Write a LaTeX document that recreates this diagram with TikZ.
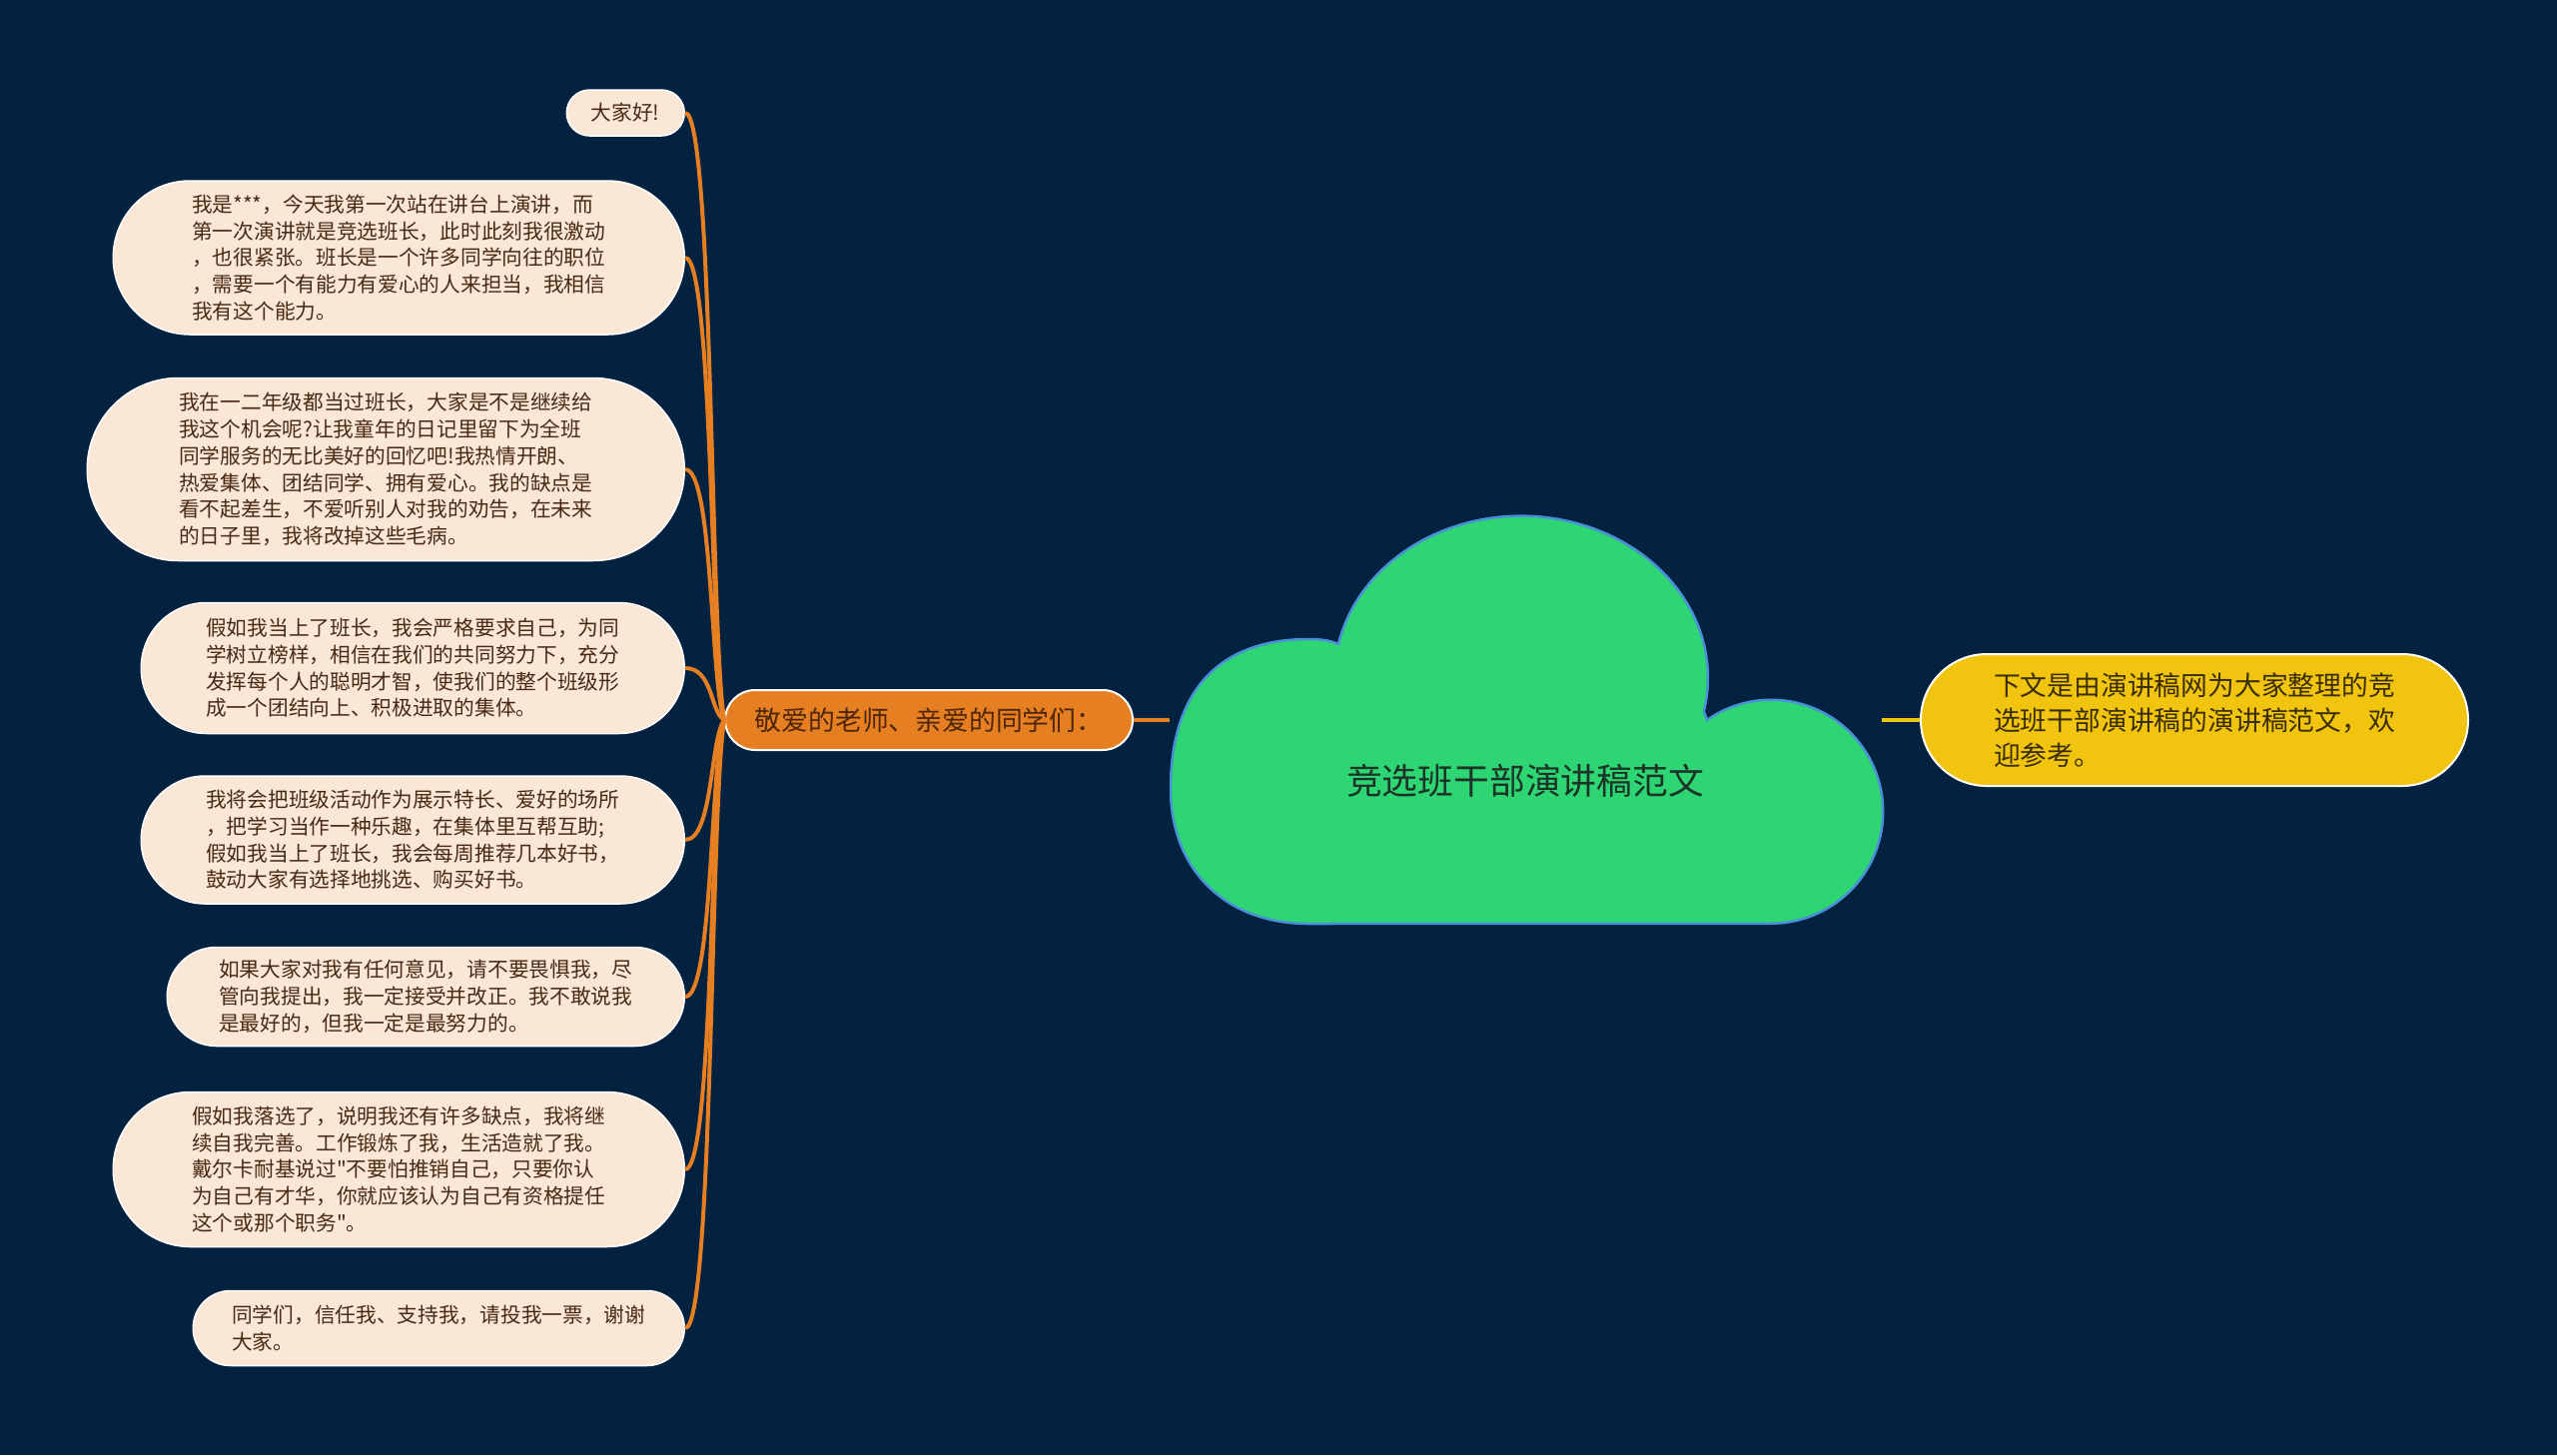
\documentclass[tikz,border=0pt]{standalone}
\usepackage{fontspec}
\newfontfamily\cjk{Noto Sans CJK SC}

\definecolor{bgnavy}{RGB}{2,34,64}
\definecolor{leaffill}{RGB}{251,231,214}
\definecolor{leaftext}{RGB}{72,42,20}
\definecolor{hubfill}{RGB}{230,126,34}
\definecolor{hubtext}{RGB}{78,38,8}
\definecolor{cloudfill}{RGB}{46,213,115}
\definecolor{cloudedge}{RGB}{74,143,216}
\definecolor{titletext}{RGB}{28,52,40}
\definecolor{notefill}{RGB}{241,196,15}
\definecolor{notetext}{RGB}{58,46,0}

\tikzset{
  pill/.style 2 args={rectangle, minimum width=#1pt, minimum height=#2pt,
    rounded corners=#2pt/2, inner sep=0pt},
  leaf/.style={fill=leaffill, draw=white, line width=1.5pt, align=left,
    text=leaftext, font=\cjk\fontsize{20.7pt}{26.7pt}\selectfont},
  hub/.style={fill=hubfill, draw=white, line width=2pt, text=hubtext,
    font=\cjk\fontsize{26.8pt}{30pt}\selectfont},
  note/.style={fill=notefill, draw=white, line width=2pt, align=left,
    text=notetext, font=\cjk\fontsize{26.8pt}{35pt}\selectfont},
  link/.style={draw=hubfill, line width=4pt},
  cloud/.style={fill=cloudfill, draw=cloudedge, line width=2.5pt},
}

\begin{document}
\begin{tikzpicture}[x=1pt, y=-1pt]
  \fill[bgnavy] (0,0) rectangle (2560,1457);
  \useasboundingbox (0,0) rectangle (2560,1457);

  % cloud
  \draw[cloud] (1310,925) .. controls (1227,925) and (1172,871) .. (1172,790)
    .. controls (1172,685) and (1227,640) .. (1310,640)
    .. controls (1325,640) and (1333,642) .. (1340,645)
    arc[start angle=192, end angle=372, x radius=187, y radius=162]
    -- (1709,721)
    arc[start angle=235, end angle=450, radius=112]
    -- cycle;
  \node[text=titletext, font=\cjk\fontsize{35.8pt}{40pt}\selectfont] (title) at (1527,782) {竞选班干部演讲稿范文};
  \coordinate (cloudW) at (1171,721);
  \coordinate (cloudE) at (1884,721);

  \node[hub, pill={408}{60}, anchor=west] (hub) at (725,721) {敬爱的老师、亲爱的同学们：};
  \node[note, pill={548}{132}, anchor=west] (note) at (1922,721) {下文是由演讲稿网为大家整理的竞\\选班干部演讲稿的演讲稿范文，欢\\迎参考。};

  \node[leaf, pill={118}{46}, anchor=east] (l1) at (686,113) {大家好!};
  \node[leaf, pill={572}{154}, anchor=east] (l2) at (686,258) {我是***，今天我第一次站在讲台上演讲，而\\第一次演讲就是竞选班长，此时此刻我很激动\\，也很紧张。班长是一个许多同学向往的职位\\，需要一个有能力有爱心的人来担当，我相信\\我有这个能力。};
  \node[leaf, pill={598}{183}, anchor=east] (l3) at (686,470) {我在一二年级都当过班长，大家是不是继续给\\我这个机会呢?让我童年的日记里留下为全班\\同学服务的无比美好的回忆吧!我热情开朗、\\热爱集体、团结同学、拥有爱心。我的缺点是\\看不起差生，不爱听别人对我的劝告，在未来\\的日子里，我将改掉这些毛病。};
  \node[leaf, pill={544}{131}, anchor=east] (l4) at (686,669) {假如我当上了班长，我会严格要求自己，为同\\学树立榜样，相信在我们的共同努力下，充分\\发挥每个人的聪明才智，使我们的整个班级形\\成一个团结向上、积极进取的集体。};
  \node[leaf, pill={544}{128}, anchor=east] (l5) at (686,841) {我将会把班级活动作为展示特长、爱好的场所\\，把学习当作一种乐趣，在集体里互帮互助;\\假如我当上了班长，我会每周推荐几本好书，\\鼓动大家有选择地挑选、购买好书。};
  \node[leaf, pill={518}{99}, anchor=east] (l6) at (686,998) {如果大家对我有任何意见，请不要畏惧我，尽\\管向我提出，我一定接受并改正。我不敢说我\\是最好的，但我一定是最努力的。};
  \node[leaf, pill={572}{155}, anchor=east] (l7) at (686,1171) {假如我落选了，说明我还有许多缺点，我将继\\续自我完善。工作锻炼了我，生活造就了我。\\戴尔卡耐基说过"不要怕推销自己，只要你认\\为自己有才华，你就应该认为自己有资格提任\\这个或那个职务"。};
  \node[leaf, pill={492}{75}, anchor=east] (l8) at (686,1330) {同学们，信任我、支持我，请投我一票，谢谢\\大家。};

  \draw[link] (hub.east) -- (cloudW);
  \draw[draw=notefill, line width=4pt] (cloudE) -- (note.west);
  \foreach \leaf/\dy in {l1/-91, l2/-69, l3/-38, l4/-8, l5/18, l6/42, l7/68, l8/91}
    \draw[link] (hub.west) .. controls +(-14,\dy) and +(28,0) .. (\leaf.east);
\end{tikzpicture}
\end{document}
